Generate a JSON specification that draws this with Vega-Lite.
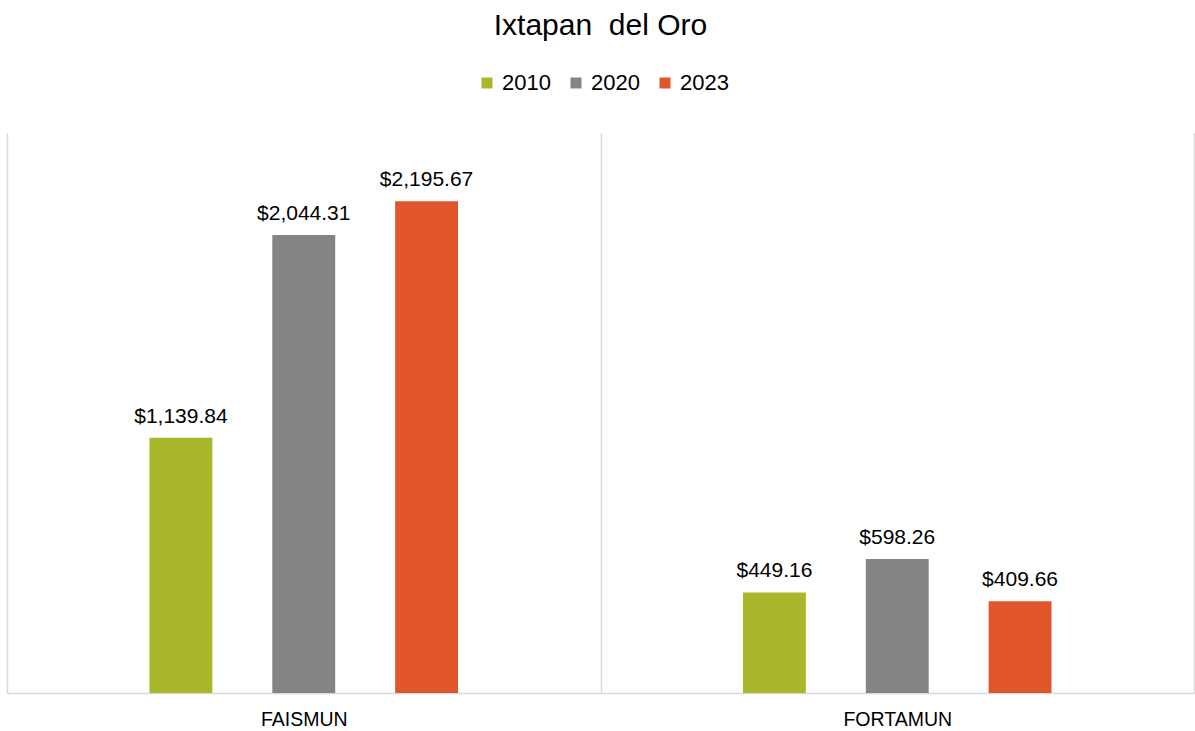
{
  "$schema": "https://vega.github.io/schema/vega-lite/v6.json",
  "autosize": "none",
  "width": 1187,
  "height": 560,
  "padding": {"left": 7, "top": 133, "right": 1, "bottom": 38},
  "background": "white",
  "title": {
    "text": "Ixtapan\u00a0 del Oro",
    "font": "Liberation Sans",
    "fontSize": 30,
    "fontWeight": "normal",
    "color": "#000000",
    "anchor": "middle",
    "offset": 31
  },
  "data": {
    "values": [
      {"fondo": "FAISMUN", "anio": "2010", "monto": 1139.84},
      {"fondo": "FAISMUN", "anio": "2020", "monto": 2044.31},
      {"fondo": "FAISMUN", "anio": "2023", "monto": 2195.67},
      {"fondo": "FORTAMUN", "anio": "2010", "monto": 449.16},
      {"fondo": "FORTAMUN", "anio": "2020", "monto": 598.26},
      {"fondo": "FORTAMUN", "anio": "2023", "monto": 409.66}
    ]
  },
  "encoding": {
    "x": {
      "field": "fondo",
      "type": "nominal",
      "title": null,
      "scale": {"paddingInner": 0, "paddingOuter": 0},
      "axis": {
        "labelAngle": 0,
        "labelFont": "Liberation Sans",
        "labelFontSize": 19.5,
        "labelColor": "#000000",
        "labelPadding": 17,
        "ticks": false,
        "domainColor": "#d9d9d9",
        "domainWidth": 1.5,
        "grid": true,
        "gridColor": "#d9d9d9",
        "gridWidth": 1.5,
        "tickBand": "extent"
      }
    },
    "xOffset": {
      "field": "anio",
      "type": "nominal",
      "scale": {"domain": ["a", "2010", "2020", "2023", "b"], "paddingInner": 0.488, "paddingOuter": 0.16}
    },
    "y": {
      "field": "monto",
      "type": "quantitative",
      "scale": {"domain": [0, 2500]},
      "axis": null
    }
  },
  "layer": [
    {
      "mark": {"type": "bar"},
      "encoding": {
        "color": {
          "field": "anio",
          "type": "nominal",
          "title": null,
          "scale": {"domain": ["2010", "2020", "2023"], "range": ["#A8B82A", "#848484", "#E05529"]},
          "legend": {
            "orient": "none",
            "direction": "horizontal",
            "legendX": 469,
            "legendY": -61,
            "padding": 0,
            "symbolType": "square",
            "symbolSize": 121,
            "symbolStrokeWidth": 0,
            "labelFont": "Liberation Sans",
            "labelFontSize": 22,
            "labelColor": "#000000",
            "labelOffset": 4,
            "columnPadding": 14
          }
        }
      }
    },
    {
      "mark": {
        "type": "text",
        "baseline": "alphabetic",
        "dy": -15,
        "font": "Liberation Sans",
        "fontSize": 21,
        "color": "#000000"
      },
      "encoding": {
        "text": {"field": "monto", "type": "quantitative", "format": "$,.2f"}
      }
    }
  ],
  "config": {"view": {"stroke": null}}
}
